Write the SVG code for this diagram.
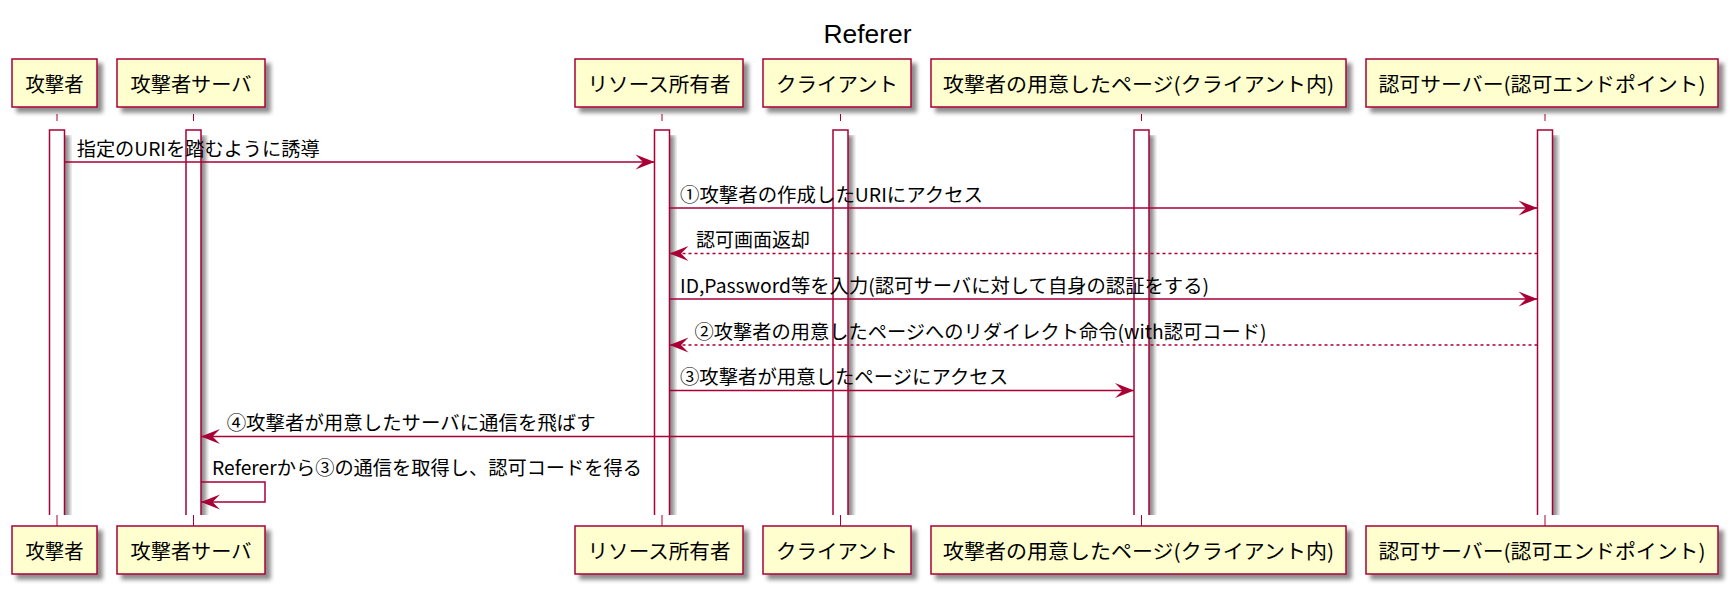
<svg xmlns="http://www.w3.org/2000/svg" width="1732" height="589" viewBox="0 0 1732 589">
<defs>
<filter id="sh" x="-0.5" y="-0.5" width="2" height="2">
<feGaussianBlur in="SourceAlpha" stdDeviation="2.2" result="b"/>
<feColorMatrix in="b" type="matrix" values="0 0 0 0 0 0 0 0 0 0 0 0 0 0 0 0 0 0 .45 0" result="b2"/>
<feOffset in="b2" dx="5" dy="5" result="b3"/>
<feMerge><feMergeNode in="b3"/><feMergeNode in="SourceGraphic"/></feMerge>
</filter>
<filter id="shr" x="-0.5" y="0" width="2" height="1">
<feGaussianBlur in="SourceAlpha" stdDeviation="2" result="b"/>
<feColorMatrix in="b" type="matrix" values="0 0 0 0 0 0 0 0 0 0 0 0 0 0 0 0 0 0 .45 0" result="b2"/>
<feOffset in="b2" dx="5" dy="5" result="b3"/>
<feMerge><feMergeNode in="b3"/><feMergeNode in="SourceGraphic"/></feMerge>
</filter>
<marker id="ah" viewBox="-20 -8 21 16" refX="0" refY="0" markerWidth="21" markerHeight="16" markerUnits="userSpaceOnUse" orient="auto">
<path d="M0,0 L-19,-7.5 L-11.5,0 L-19,7.5 Z" fill="#A80036" stroke="none"/>
</marker>
</defs>
<style>
.box{fill:#FEFECE;stroke:#A80036;stroke-width:1.5;filter:url(#sh)}
.actf{fill:#FFFFFF;stroke:none;filter:url(#shr)}
.acte{fill:none;stroke:#A80036;stroke-width:1.5}
.ll{stroke:#A80036;stroke-width:1;fill:none}
.msg{stroke:#A80036;stroke-width:1.5;fill:none;marker-end:url(#ah)}
.dash{stroke-dasharray:3,3}
.pt{font-family:"Noto Sans CJK JP","Noto Sans",sans-serif;font-size:20px;fill:#000;text-anchor:middle}
.mt{font-family:"Noto Sans CJK JP","Noto Sans",sans-serif;font-size:19px;fill:#000}
.title{font-family:"Liberation Sans","Noto Sans CJK JP",sans-serif;font-size:25px;fill:#000;text-anchor:middle}
</style>
<rect width="1732" height="589" fill="#FFFFFF"/>
<text class="title" x="867.5" y="42.7" textLength="88" lengthAdjust="spacingAndGlyphs">Referer</text>

<g id="lifelines">
<line class="ll" x1="57" y1="114" x2="57" y2="121"/><line class="ll" x1="57" y1="515" x2="57" y2="526"/>
<line class="ll" x1="193.5" y1="114" x2="193.5" y2="121"/><line class="ll" x1="193.5" y1="515" x2="193.5" y2="526"/>
<line class="ll" x1="662" y1="114" x2="662" y2="121"/><line class="ll" x1="662" y1="515" x2="662" y2="526"/>
<line class="ll" x1="840.5" y1="114" x2="840.5" y2="121"/><line class="ll" x1="840.5" y1="515" x2="840.5" y2="526"/>
<line class="ll" x1="1141.5" y1="114" x2="1141.5" y2="121"/><line class="ll" x1="1141.5" y1="515" x2="1141.5" y2="526"/>
<line class="ll" x1="1545" y1="114" x2="1545" y2="121"/><line class="ll" x1="1545" y1="515" x2="1545" y2="526"/>
</g>

<g id="activations">
<rect class="actf" x="49.5" y="130" width="15" height="385"/><path class="acte" d="M49.5,515 V130 H64.5 V515"/>
<rect class="actf" x="186" y="130" width="15" height="385"/><path class="acte" d="M186,515 V130 H201 V515"/>
<rect class="actf" x="654.5" y="130" width="15" height="385"/><path class="acte" d="M654.5,515 V130 H669.5 V515"/>
<rect class="actf" x="833" y="130" width="15" height="385"/><path class="acte" d="M833,515 V130 H848 V515"/>
<rect class="actf" x="1134" y="130" width="15" height="385"/><path class="acte" d="M1134,515 V130 H1149 V515"/>
<rect class="actf" x="1537.5" y="130" width="15" height="385"/><path class="acte" d="M1537.5,515 V130 H1552.5 V515"/>
</g>

<g id="p-attacker">
<rect class="box" x="12" y="59" width="85" height="48"/>
<text class="pt" x="54.5" y="92" textLength="58" lengthAdjust="spacingAndGlyphs">攻撃者</text>
<rect class="box" x="12" y="526" width="85" height="48"/>
<text class="pt" x="54.5" y="559" textLength="58" lengthAdjust="spacingAndGlyphs">攻撃者</text>
</g>
<g id="p-attacker-server">
<rect class="box" x="117" y="59" width="148" height="48"/>
<text class="pt" x="191" y="92" textLength="121" lengthAdjust="spacingAndGlyphs">攻撃者サーバ</text>
<rect class="box" x="117" y="526" width="148" height="48"/>
<text class="pt" x="191" y="559" textLength="121" lengthAdjust="spacingAndGlyphs">攻撃者サーバ</text>
</g>
<g id="p-owner">
<rect class="box" x="575" y="59" width="168" height="48"/>
<text class="pt" x="659" y="92" textLength="143" lengthAdjust="spacingAndGlyphs">リソース所有者</text>
<rect class="box" x="575" y="526" width="168" height="48"/>
<text class="pt" x="659" y="559" textLength="143" lengthAdjust="spacingAndGlyphs">リソース所有者</text>
</g>
<g id="p-client">
<rect class="box" x="763" y="59" width="148" height="48"/>
<text class="pt" x="837" y="92" textLength="122" lengthAdjust="spacingAndGlyphs">クライアント</text>
<rect class="box" x="763" y="526" width="148" height="48"/>
<text class="pt" x="837" y="559" textLength="122" lengthAdjust="spacingAndGlyphs">クライアント</text>
</g>
<g id="p-page">
<rect class="box" x="931" y="59" width="415" height="48"/>
<text class="pt" x="1138.5" y="92" textLength="391" lengthAdjust="spacingAndGlyphs">攻撃者の用意したページ(クライアント内)</text>
<rect class="box" x="931" y="526" width="415" height="48"/>
<text class="pt" x="1138.5" y="559" textLength="391" lengthAdjust="spacingAndGlyphs">攻撃者の用意したページ(クライアント内)</text>
</g>
<g id="p-authz">
<rect class="box" x="1366" y="59" width="352" height="48"/>
<text class="pt" x="1542" y="92" textLength="327" lengthAdjust="spacingAndGlyphs">認可サーバー(認可エンドポイント)</text>
<rect class="box" x="1366" y="526" width="352" height="48"/>
<text class="pt" x="1542" y="559" textLength="327" lengthAdjust="spacingAndGlyphs">認可サーバー(認可エンドポイント)</text>
</g>

<g id="connectors">
<line class="msg" x1="64.5" y1="162" x2="654.5" y2="162"/>
<text class="mt" x="76.7" y="155.5" textLength="243" lengthAdjust="spacingAndGlyphs">指定のURIを踏むように誘導</text>
<line class="msg" x1="669.5" y1="208" x2="1537.5" y2="208"/>
<text class="mt" x="680" y="201.5" textLength="303" lengthAdjust="spacingAndGlyphs">①攻撃者の作成したURIにアクセス</text>
<line class="msg dash" x1="1537.5" y1="253.5" x2="669.5" y2="253.5"/>
<text class="mt" x="696" y="247" textLength="114" lengthAdjust="spacingAndGlyphs">認可画面返却</text>
<line class="msg" x1="669.5" y1="299" x2="1537.5" y2="299"/>
<text class="mt" x="680" y="292.5" textLength="529" lengthAdjust="spacingAndGlyphs">ID,Password等を入力(認可サーバに対して自身の認証をする)</text>
<line class="msg dash" x1="1537.5" y1="345" x2="669.5" y2="345"/>
<text class="mt" x="694.5" y="338.5" textLength="572" lengthAdjust="spacingAndGlyphs">②攻撃者の用意したページへのリダイレクト命令(with認可コード)</text>
<line class="msg" x1="669.5" y1="390.5" x2="1134" y2="390.5"/>
<text class="mt" x="680" y="384" textLength="328" lengthAdjust="spacingAndGlyphs">③攻撃者が用意したページにアクセス</text>
<line class="msg" x1="1134" y1="436.5" x2="201" y2="436.5"/>
<text class="mt" x="226.7" y="430" textLength="369" lengthAdjust="spacingAndGlyphs">④攻撃者が用意したサーバに通信を飛ばす</text>
<path class="msg" d="M201,482 H265 V502 H201"/>
<text class="mt" x="212" y="475" textLength="430" lengthAdjust="spacingAndGlyphs">Refererから③の通信を取得し、認可コードを得る</text>
</g>
</svg>
